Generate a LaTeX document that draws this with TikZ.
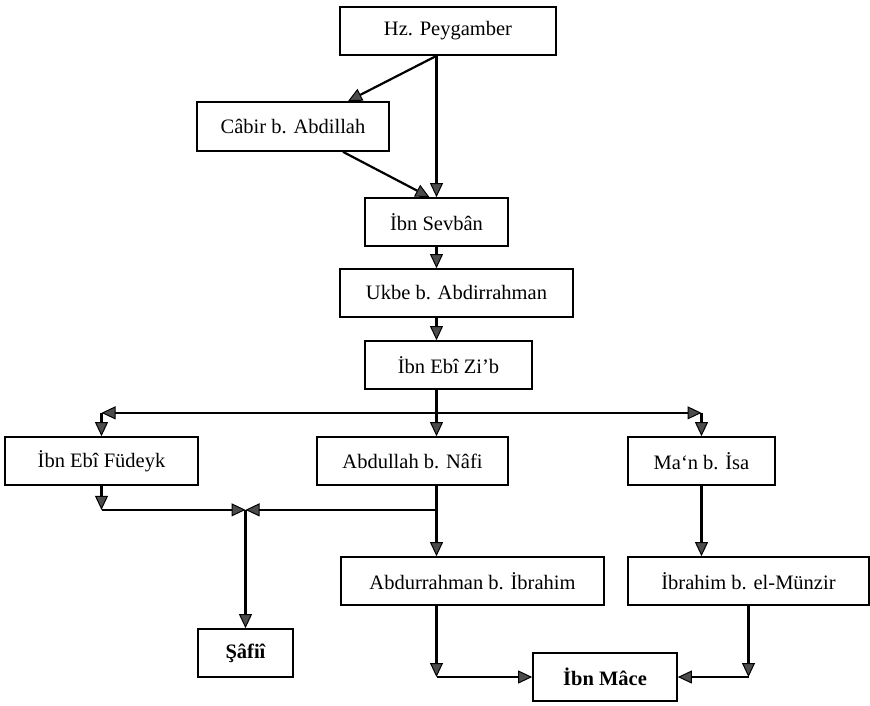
\documentclass[tikz,border=0pt]{standalone}
\usepackage{fontspec}
\setmainfont{Liberation Serif}
\usetikzlibrary{arrows.meta,calc}
\begin{document}
\begin{tikzpicture}[x=1pt,y=-1pt,
  box/.style={draw,line width=1.7pt,minimum width=#1,minimum height=48,inner sep=0pt,
    font=\fontsize{20.5}{24}\selectfont},
  plain/.style={line width=2.2pt},
  conn/.style={line width=2.2pt,-{Triangle[length=14pt,width=13pt,fill=black!70,line width=1pt]}}]
\useasboundingbox (0,0) rectangle (870,705);
\node[box=216] (hz) at (448,31) {Hz. Peygamber};
\node[box=192,minimum height=49] (cabir) at (293,126.5) {Câbir b. Abdillah};
\node[box=143] (sevban) at (436.5,222) {İbn Sevbân};
\node[box=233] (ukbe) at (456.5,293) {Ukbe b. Abdirrahman};
\node[box=167] (zib) at (448.5,365) {İbn Ebî Zi’b};
\node[box=193] (fudeyk) at (101.5,461) {İbn Ebî Füdeyk};
\node[box=191] (abdullah) at (412.5,461) {Abdullah b. Nâfi};
\node[box=147] (man) at (701.5,461) {Ma‘n b. İsa};
\node[box=263] (abdurrahman) at (472.5,581) {Abdurrahman b. İbrahim};
\node[box=241] (munzir) at (748.5,581) {İbrahim b. el-Münzir};
\node[box=95] (safii) at (245.5,653) {\bfseries Şâfiî};
\node[box=144] (ibnmace) at (605,677) {\bfseries İbn Mâce};
% top part
\draw[conn] (hz.south -| sevban.north) -- (sevban.north);
\draw[conn] (hz.south -| sevban.north) -- ($(cabir.north)+(55,0)$);
\draw[conn] ($(cabir.south)+(50,0)$) -- ($(sevban.north)+(-7,0)$);
\draw[conn] (sevban.south) -- (sevban.south |- ukbe.north);
\draw[conn] (ukbe.south -| sevban.south) -- (zib.north -| sevban.south);
% distribution line
\coordinate (j) at ($(zib.south -| sevban.south)+(0,23)$);
\coordinate (jl) at (j -| fudeyk.north);
\coordinate (jr) at (j -| man.north);
\draw[plain] (zib.south -| j) -- (j);
\draw[conn] (j) -- (j |- abdullah.north);
\draw[conn] (j) -- (jl);
\draw[conn] (jl) -- (fudeyk.north);
\draw[conn] (j) -- (jr);
\draw[conn] (jr) -- (man.north);
% to Safii
\coordinate (k) at ($(abdullah.south -| safii.north)+(0,24)$);
\coordinate (kl) at (k -| fudeyk.south);
\coordinate (kr) at (k -| j);
\draw[conn] (fudeyk.south) -- (kl);
\draw[conn] (kl) -- (k);
\draw[conn] (kr) -- (k);
\draw[conn] (abdullah.south -| j) -- (abdurrahman.north -| j);
\draw[conn] (k) -- (safii.north);
% right column
\draw[conn] (man.south) -- (man.south |- munzir.north);
% to Ibn Mace
\coordinate (ml) at (ibnmace.west -| j);
\coordinate (mr) at (ibnmace.east -| munzir.south);
\draw[conn] (abdurrahman.south -| j) -- (ml);
\draw[conn] (ml) -- (ibnmace.west);
\draw[conn] (munzir.south) -- (mr);
\draw[conn] (mr) -- (ibnmace.east);
\end{tikzpicture}
\end{document}
